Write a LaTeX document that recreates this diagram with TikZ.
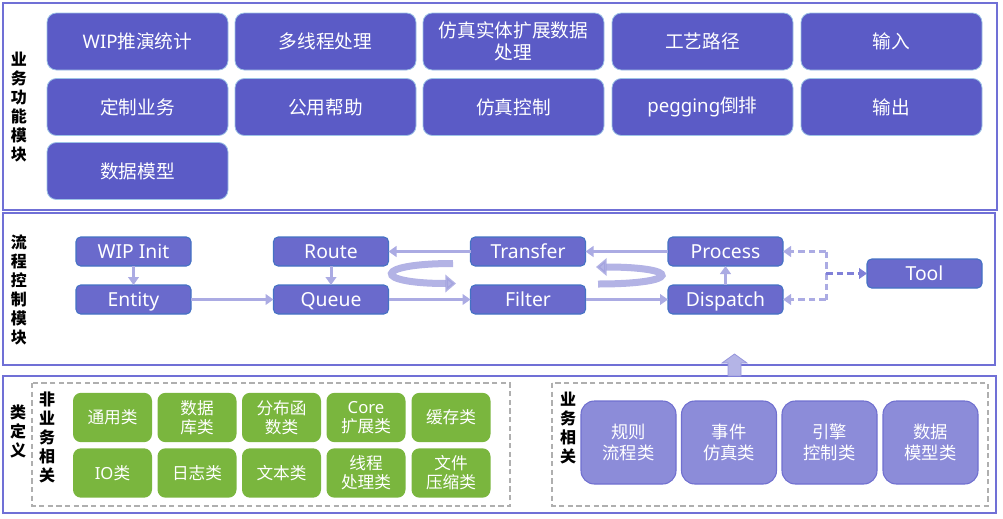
\documentclass[tikz,border=0pt]{standalone}
\usepackage{fontspec}
\setmainfont{Noto Sans CJK SC}
\newfontfamily\lat{Noto Sans}
\usetikzlibrary{arrows.meta}
\definecolor{frameC}{RGB}{112,112,214}
\definecolor{modC}{RGB}{91,91,198}
\definecolor{modBorder}{RGB}{157,195,230}
\definecolor{flowC}{RGB}{106,106,204}
\definecolor{flowBorder}{RGB}{68,114,196}
\definecolor{arrC}{RGB}{171,171,227}
\definecolor{arrDark}{RGB}{128,128,216}
\definecolor{ribbonC}{RGB}{160,160,222}
\definecolor{greenC}{RGB}{122,182,62}
\definecolor{bizC}{RGB}{140,140,217}
\definecolor{bizBorder}{RGB}{112,112,208}
\definecolor{dashGray}{RGB}{175,175,175}
\begin{document}
\begin{tikzpicture}[x=0.75pt,y=-0.75pt,
  secframe/.style={draw=frameC, line width=1.1pt},
  modbox/.style={fill=modC, draw=modBorder, line width=0.6pt, rounded corners=7pt, text=white,
    minimum width=135.75pt, minimum height=42.75pt, inner sep=0pt, outer sep=0pt, align=center,
    font=\fontsize{14}{17}\selectfont},
  flownode/.style={fill=flowC, draw=flowBorder, line width=0.8pt, rounded corners=3.5pt, text=white,
    minimum width=86.25pt, minimum height=21.75pt, inner sep=0pt, outer sep=0pt,
    text height=12pt, text depth=1.6pt,
    font=\lat\fontsize{14.5}{17}\selectfont},
  greenbox/.style={fill=greenC, draw=none, rounded corners=6pt, text=white,
    minimum width=59.25pt, minimum height=37pt, inner sep=0pt, outer sep=0pt, align=center,
    font=\fontsize{12.5}{14.25}\selectfont},
  bizbox/.style={fill=bizC, draw=bizBorder, line width=0.8pt, rounded corners=10pt, text=white,
    minimum width=71.25pt, minimum height=62.25pt, inner sep=0pt, outer sep=0pt, align=center,
    font=\fontsize{13}{16}\selectfont},
  vlabel/.style={align=center, inner sep=0pt, font=\fontsize{12}{14.25}\selectfont\bfseries},
  dashbox/.style={draw=dashGray, line width=0.8pt, dash pattern=on 4pt off 2.5pt},
  flowarr/.style={-{Triangle[width=8pt,length=6pt]}, draw=arrC, line width=2.25pt},
  dasharr/.style={draw=arrC, line width=2.25pt, dash pattern=on 5pt off 3pt},
  ribbon/.style={draw=ribbonC, line width=5.25pt, opacity=0.8, -{Triangle[width=13pt,length=8pt]}}
]
\useasboundingbox (0,0) rectangle (1003,518);
% frames
\draw[secframe] (3,3) rectangle (997,210);
\draw[secframe] (3,213) rectangle (995,365);
\draw[secframe] (3,376) rectangle (996,513);

% section 1
\node[vlabel] (L1) at (19,107) {业\\务\\功\\能\\模\\块};
\node[modbox] (m11) at (137.5,41.5) {{\lat WIP}推演统计};
\node[modbox] (m12) at (325.5,41.5) {多线程处理};
\node[modbox] (m13) at (513.5,41.5) {仿真实体扩展数据\\处理};
\node[modbox] (m14) at (702.5,41.5) {工艺路径};
\node[modbox] (m15) at (891.5,41.5) {输入};
\node[modbox] (m21) at (137.5,107) {定制业务};
\node[modbox] (m22) at (325.5,107) {公用帮助};
\node[modbox] (m23) at (513.5,107) {仿真控制};
\node[modbox] (m24) at (702.5,107) {{\lat pegging}倒排};
\node[modbox] (m25) at (891.5,107) {输出};
\node[modbox] (m31) at (137.5,171) {数据模型};

% section 2
\node[vlabel] (L2) at (19,290) {流\\程\\控\\制\\模\\块};
\node[flownode] (wip) at (133.5,251.5) {WIP Init};
\node[flownode] (entity) at (133.5,299.5) {Entity};
\node[flownode] (route) at (331,251.5) {Route};
\node[flownode] (queue) at (331,299.5) {Queue};
\node[flownode] (transfer) at (528,251.5) {Transfer};
\node[flownode] (filter) at (528,299.5) {Filter};
\node[flownode] (process) at (725.5,251.5) {Process};
\node[flownode] (dispatch) at (725.5,299.5) {Dispatch};
\node[flownode] (tool) at (924.5,273.5) {Tool};

\draw[flowarr] (wip) -- (entity);
\draw[flowarr] (entity) -- (queue);
\draw[flowarr] (route) -- (queue);
\draw[flowarr] (queue) -- (filter);
\draw[flowarr] (transfer) -- (route);
\draw[flowarr] (process) -- (transfer);
\draw[flowarr] (filter) -- (dispatch);
\draw[flowarr] (dispatch) -- (process);

\coordinate (jt) at (826,251.5);
\coordinate (jm) at (826,273.5);
\coordinate (jb) at (826,299.5);
\draw[dasharr] (jt) -- (jb);
\draw[dasharr, -{Triangle[width=8pt,length=6pt]}] (jt) -- (process.east);
\draw[dasharr, -{Triangle[width=8pt,length=6pt]}] (jb) -- (dispatch.east);
\draw[dasharr, draw=arrDark, -{Triangle[width=8pt,length=6pt]}] (jm) -- (tool.west);

% ribbons
\draw[ribbon] (453,263.5) .. controls (372,263.5) and (372,283.5) .. (456,283.5);
\draw[ribbon] (598,284) .. controls (682,284) and (682,267) .. (596,267);

% up block arrow
\draw[fill={rgb,255:red,180;green,180;blue,230}, draw={rgb,255:red,150;green,150;blue,220}, line width=0.6pt]
  (728,376) -- (728,363) -- (722,363) -- (734.5,354) -- (747,363) -- (741,363) -- (741,376) -- cycle;

% section 3
\node[vlabel] (L3) at (18,431) {类\\定\\义};
\draw[dashbox] (32,383) rectangle (510,506);
\node[vlabel] (L4) at (47,437) {非\\业\\务\\相\\关};
\node[greenbox] (g11) at (112.5,417.5) {通用类};
\node[greenbox] (g12) at (197,417.5) {数据\\库类};
\node[greenbox] (g13) at (281.5,417.5) {分布函\\数类};
\node[greenbox] (g14) at (366,417.5) {{\lat Core}\\扩展类};
\node[greenbox] (g15) at (451,417.5) {缓存类};
\node[greenbox] (g21) at (112.5,473) {{\lat IO}类};
\node[greenbox] (g22) at (197,473) {日志类};
\node[greenbox] (g23) at (281.5,473) {文本类};
\node[greenbox] (g24) at (366,473) {线程\\处理类};
\node[greenbox] (g25) at (451,473) {文件\\压缩类};

\draw[dashbox] (552,383) rectangle (988,506);
\node[vlabel] (L5) at (568,428) {业\\务\\相\\关};
\node[bizbox] (b1) at (628.5,442.5) {规则\\流程类};
\node[bizbox] (b2) at (729,442.5) {事件\\仿真类};
\node[bizbox] (b3) at (829.5,442.5) {引擎\\控制类};
\node[bizbox] (b4) at (930.5,442.5) {数据\\模型类};
\end{tikzpicture}
\end{document}
